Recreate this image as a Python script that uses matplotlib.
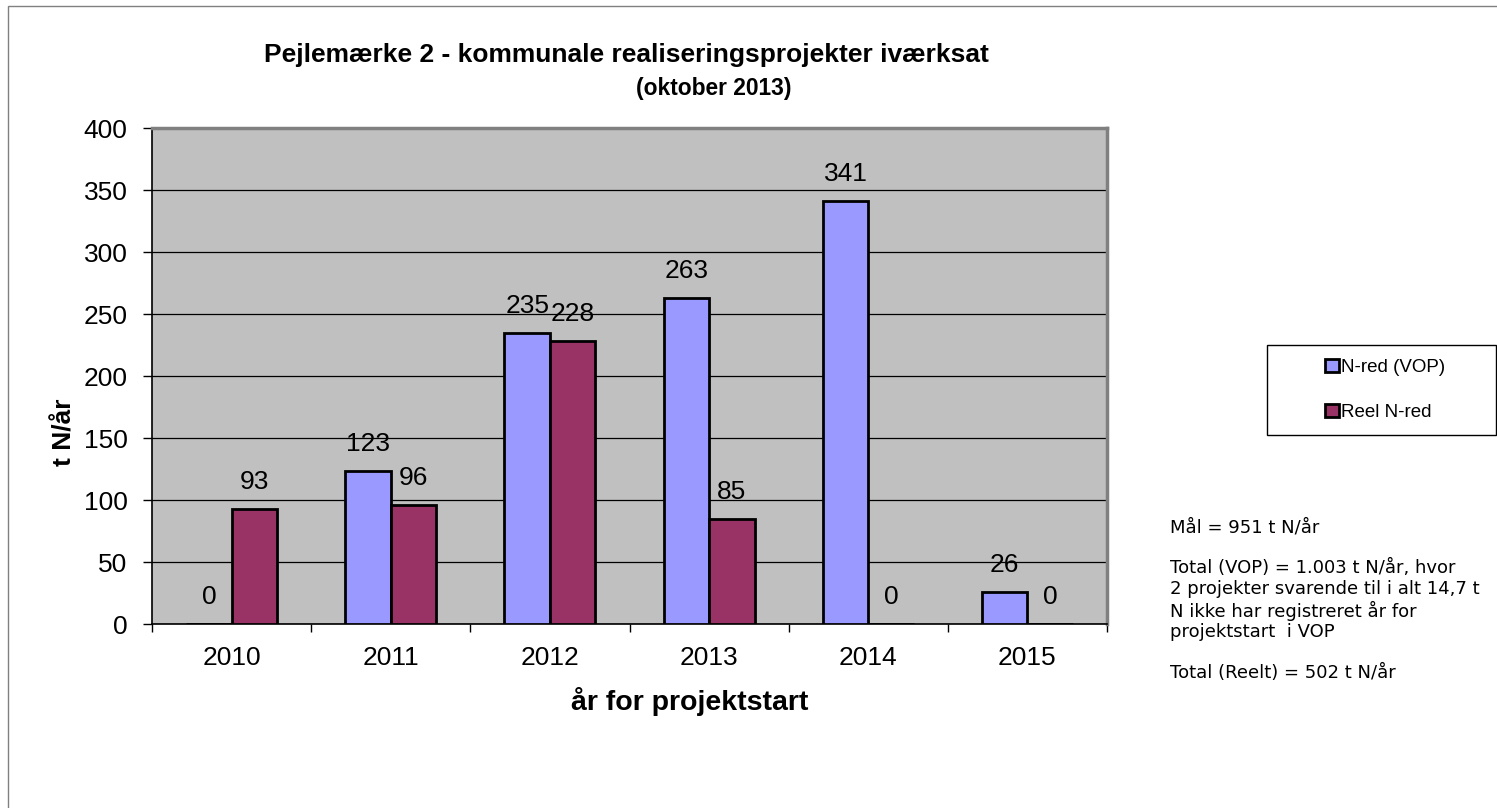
import matplotlib
matplotlib.use('Agg')
import matplotlib.pyplot as plt
import numpy as np
from matplotlib.patches import Rectangle

# data
years = ['2010', '2011', '2012', '2013', '2014', '2015']
n_red_vop = [0, 123, 235, 263, 341, 26]
reel_n_red = [93, 96, 228, 85, 0, 0]
y_ticks = [0, 50, 100, 150, 200, 250, 300, 350, 400]

title = 'Pejlemærke 2 - kommunale realiseringsprojekter iværksat'
subtitle = '(oktober 2013)'
note_lines = [
    'Mål = 951 t N/år',
    '',
    'Total (VOP) = 1.003 t N/år, hvor',
    '2 projekter svarende til i alt 14,7 t',
    'N ikke har registreret år for',
    'projektstart  i VOP',
    '',
    'Total (Reelt) = 502 t N/år',
]

plt.rcParams['font.family'] = ['Liberation Sans', 'DejaVu Sans']

W, H = 1497, 808
fig = plt.figure(figsize=(W / 100, H / 100), dpi=100)

# outer chart border
fig.patches.append(Rectangle((8 / W, -0.01), 1.02, 1 - 6 / H + 0.01, transform=fig.transFigure,
                             fill=False, edgecolor='#808080', linewidth=1))

ax = fig.add_axes([152 / W, 1 - 624 / H, (1107 - 152) / W, (624 - 128) / H])
ax.set_facecolor('#C0C0C0')

x = np.arange(len(years))
w = 1 / 3.5
bars1 = ax.bar(x - w / 2, n_red_vop, w, color='#9999FF', edgecolor='black', linewidth=2,
               label='N-red (VOP)', zorder=3)
bars2 = ax.bar(x + w / 2, reel_n_red, w, color='#993366', edgecolor='black', linewidth=2,
               label='Reel N-red', zorder=3)

for bars, vals in [(bars1, n_red_vop), (bars2, reel_n_red)]:
    for b, v in zip(bars, vals):
        ax.annotate(str(v), (b.get_x() + b.get_width() / 2, v), xytext=(0, 19.5),
                    textcoords='offset points', ha='center', va='center', fontsize=19)

ax.set_xlim(-0.5, len(years) - 0.5)
ax.set_ylim(0, 400)
ax.set_yticks(y_ticks)
ax.set_xticks(x)
ax.set_xticklabels(years)
ax.set_xticks(np.arange(-0.5, len(years)), minor=True)
ax.tick_params(axis='x', which='major', length=0, pad=16, labelsize=19)
ax.tick_params(axis='x', which='minor', length=6, width=1, color='black', direction='out')
ax.tick_params(axis='y', length=6.5, width=1, pad=11, labelsize=19)
ax.grid(True, axis='y', color='black', linewidth=0.9, zorder=1)
ax.set_axisbelow(True)

for side in ['top', 'right']:
    ax.spines[side].set_color('#808080')
    ax.spines[side].set_linewidth(2.5)
ax.spines['left'].set_linewidth(1.2)
ax.spines['bottom'].set_linewidth(1.2)

fig.text(626 / W, 1 - 55 / H, title, ha='center', va='center', fontsize=19, fontweight='bold')
fig.text(714 / W, 1 - 88 / H, subtitle, ha='center', va='center', fontsize=16.4, fontweight='bold')
fig.text(64 / W, 1 - 432 / H, 't N/år', ha='center', va='center', rotation=90,
         fontsize=19, fontweight='bold')
fig.text(690 / W, 1 - 702 / H, 'år for projektstart', ha='center', va='center',
         fontsize=20.5, fontweight='bold')

# legend box
fig.patches.append(Rectangle((1267 / W, 1 - 435 / H), (1496 - 1267) / W, 90 / H,
                             transform=fig.transFigure, fill=False, edgecolor='black', linewidth=1))
fig.legend(handles=[bars1, bars2], loc='center left', bbox_to_anchor=(1316 / W, 1 - 390 / H),
           frameon=False, fontsize=13.5, handlelength=0.7, handleheight=0.7,
           handletextpad=0.15, labelspacing=1.45, borderpad=0)

fig.text(1170 / W, 1 - 518 / H, '\n'.join(note_lines), ha='left', va='top',
         fontsize=13, family='DejaVu Sans', linespacing=1.18)

plt.savefig('out.png', dpi=100)
